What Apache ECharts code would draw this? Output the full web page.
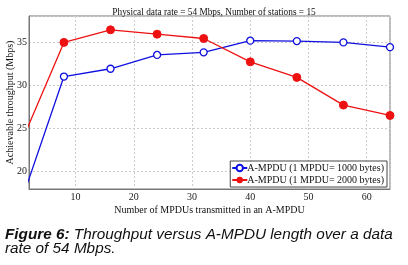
<!DOCTYPE html>
<html><head><meta charset="utf-8">
<script src="https://cdn.jsdelivr.net/npm/echarts@6/dist/echarts.min.js"></script>
<style>html,body{margin:0;padding:0;background:#fff}#c{width:408px;height:265px}</style>
</head><body><div id="c"></div>
<script>
const xValues = [1, 8, 16, 24, 32, 40, 48, 56, 64];
const series1000 = [17.2, 31.0, 31.9, 33.5, 33.8, 35.15, 35.1, 34.95, 34.4];
const series2000 = [23.9, 34.95, 36.4, 35.9, 35.4, 32.7, 30.9, 27.7, 26.5];
const seriesNames = ['A-MPDU (1 MPDU= 1000 bytes)', 'A-MPDU (1 MPDU= 2000 bytes)'];
const titleText = 'Physical data rate = 54 Mbps, Number of stations = 15';
const xName = 'Number of MPDUs transmitted in an A-MPDU';
const yName = 'Achievable throughput (Mbps)';

const serif = 'Liberation Serif';
const chart = echarts.init(document.getElementById('c'), null, {renderer: 'canvas'});
chart.setOption({
  animation: false,
  title: {text: titleText, left: 209, textAlign: 'center', top: 3, textStyle: {fontFamily: serif, fontSize: 9.3, fontWeight: 'normal', color: '#111'}},
  grid: {left: 29, right: 18, top: 16, bottom: 76, show: true, borderColor: '#777', borderWidth: 1, containLabel: false, outerBoundsMode: 'none'},
  legend: {
    orient: 'vertical', right: 21, bottom: 78, backgroundColor: '#fff', borderColor: '#444', borderWidth: 1,
    padding: [2, 3, 2, 1], itemGap: 2, itemWidth: 15, itemHeight: 8,
    textStyle: {fontFamily: serif, fontSize: 10, color: '#111', padding: [0, 0, 0, -5]},
    data: seriesNames
  },
  xAxis: {
    type: 'value', min: 2, max: 64, splitNumber: 6,
    name: xName, nameLocation: 'middle', nameGap: 16, nameMoveOverlap: false,
    nameTextStyle: {fontFamily: serif, fontSize: 10, color: '#111'},
    axisLine: {lineStyle: {color: '#777'}}, axisTick: {show: false},
    axisLabel: {showMinLabel: false, showMaxLabel: false, fontFamily: serif, fontSize: 10, color: '#222', margin: 3},
    splitLine: {lineStyle: {type: [2, 2], color: '#ccc'}}
  },
  yAxis: {
    type: 'value', min: 18, max: 38, splitNumber: 4,
    name: yName, nameLocation: 'middle', nameGap: 14, nameMoveOverlap: false,
    nameTextStyle: {fontFamily: serif, fontSize: 10, color: '#111'},
    axisLine: {show: true, lineStyle: {color: '#777'}}, axisTick: {show: false},
    axisLabel: {showMinLabel: false, showMaxLabel: false, fontFamily: serif, fontSize: 10, color: '#222', margin: 2},
    splitLine: {lineStyle: {type: [2, 2], color: '#ccc'}}
  },
  series: [
    {name: seriesNames[0], type: 'line', clip: true, data: xValues.map((x, i) => [x, series1000[i]]),
     symbol: 'circle', symbolSize: 7, showAllSymbol: true,
     lineStyle: {color: '#1010e0', width: 1.3}, itemStyle: {color: '#fff', borderColor: '#1010e0', borderWidth: 1.3}},
    {name: seriesNames[1], type: 'line', clip: true, data: xValues.map((x, i) => [x, series2000[i]]),
     symbol: 'circle', symbolSize: 8, showAllSymbol: true,
     lineStyle: {color: '#ee1111', width: 1.3}, itemStyle: {color: '#ee1111', borderColor: '#ee1111'}}
  ],
  graphic: [{
    type: 'text', left: 5, top: 227,
    style: {
      text: '{b|Figure 6:} Throughput versus A-MPDU length over a data\n{n|rate of 54 Mbps.}',
      fontFamily: 'Liberation Sans', fontStyle: 'italic', fontSize: 15.3, lineHeight: 14.3, fill: '#111',
      rich: {
        b: {fontFamily: 'Liberation Sans', fontStyle: 'italic', fontWeight: 'bold', fontSize: 15.3, lineHeight: 14.3, fill: '#111'},
        n: {fontFamily: 'Liberation Sans', fontStyle: 'italic', fontSize: 15.3, lineHeight: 14.3, fill: '#111'}
      }
    }
  }]
});
</script></body></html>
